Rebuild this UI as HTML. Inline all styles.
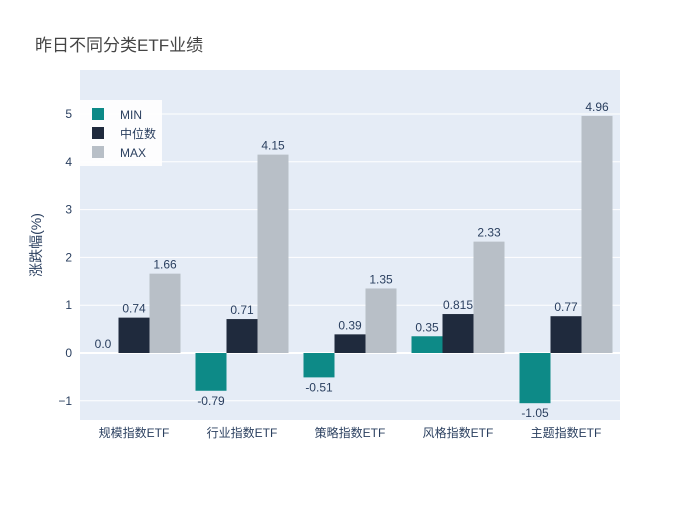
<!DOCTYPE html>
<html><head><meta charset="utf-8"><style>
body{margin:0;background:#fff;font-family:"Liberation Sans","Noto Sans CJK SC",sans-serif;}
svg text{font-family:"Liberation Sans","Noto Sans CJK SC",sans-serif;}
</style></head><body>
<svg id="chart" width="700" height="500" xmlns="http://www.w3.org/2000/svg">
<rect width="700" height="500" fill="#fff"/>
<text x="35" y="51" font-size="17" fill="#444">昨日不同分类ETF业绩</text>
<rect x="80" y="70" width="540" height="350" fill="#e5ecf6"/>
<g id="grid"></g><g id="bars"></g><g id="labels"></g>
<text transform="translate(41,245) rotate(-90)" text-anchor="middle" font-size="14" fill="#2a3f5f">涨跌幅(%)</text>
<g>
<rect x="80" y="100" width="82" height="66" fill="#fff" opacity="0.9"/>
<rect x="92" y="108" width="12" height="12" fill="#0d8a87"/>
<text x="120" y="119" font-size="12" fill="#2a3f5f">MIN</text>
<rect x="92" y="127" width="12" height="12" fill="#1f2a3d"/>
<text x="120" y="138" font-size="12" fill="#2a3f5f">中位数</text>
<rect x="92" y="146" width="12" height="12" fill="#b8bfc7"/>
<text x="120" y="157" font-size="12" fill="#2a3f5f">MAX</text>
</g>
</svg>
<script>
const categories=["规模指数ETF","行业指数ETF","策略指数ETF","风格指数ETF","主题指数ETF"];
const minValues=[0.0,-0.79,-0.51,0.35,-1.05];
const medianValues=[0.74,0.71,0.39,0.815,0.77];
const maxValues=[1.66,4.15,1.35,2.33,4.96];
const minLabels=["0.0","-0.79","-0.51","0.35","-1.05"];
const medianLabels=["0.74","0.71","0.39","0.815","0.77"];
const maxLabels=["1.66","4.15","1.35","2.33","4.96"];
const yTicks=[-1,0,1,2,3,4,5];
const NS="http://www.w3.org/2000/svg";
const y=v=>353-v*47.8;
const x=i=>80+108*(i+0.5);
const bw=31;
function mk(t,a,p){const e=document.createElementNS(NS,t);for(const k in a)e.setAttribute(k,a[k]);p.appendChild(e);return e;}
const grid=document.getElementById('grid'),bars=document.getElementById('bars'),labels=document.getElementById('labels');
yTicks.forEach(t=>{
 const l=mk('line',{x1:80,x2:620,y1:y(t),y2:y(t),stroke:'#fff','stroke-width':t===0?2:1},grid);
 
 
 const tx=mk('text',{x:72,y:y(t)+4,'text-anchor':'end','font-size':12,fill:'#2a3f5f'},grid);
 tx.textContent=t<0?'−'+Math.abs(t):t;
 
 
});
const series=[[minValues,minLabels,'#0d8a87','min'],[medianValues,medianLabels,'#1f2a3d','median'],[maxValues,maxLabels,'#b8bfc7','max']];
categories.forEach((c,i)=>{
 series.forEach((s,j)=>{
  const v=s[0][i];const bx=x(i)-1.5*bw+j*bw;
  const r=mk('rect',{x:bx,y:Math.min(y(v),y(0)),width:bw,height:Math.abs(y(v)-y(0)),fill:s[2]},bars);
  
  
  const t=mk('text',{x:bx+bw/2,y:v>=0?y(v)-5:y(v)+14,'text-anchor':'middle','font-size':12,fill:'#2a3f5f'},labels);
  t.textContent=s[1][i];
  
  
 });
 const ct=mk('text',{x:x(i),y:437,'text-anchor':'middle','font-size':12,fill:'#2a3f5f'},labels);
 ct.textContent=c;
 
 
});
</script>
</body></html>
